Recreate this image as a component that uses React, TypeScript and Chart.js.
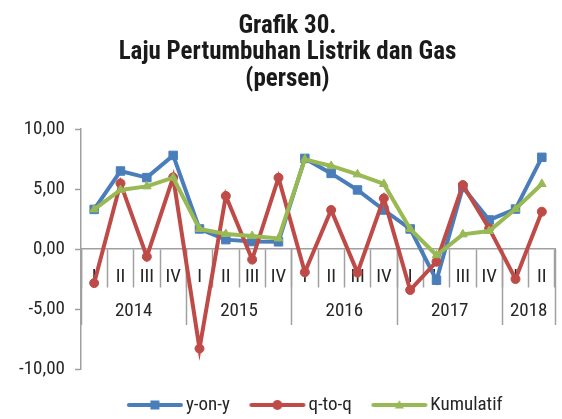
import React, { useEffect, useRef } from 'react';
import { Chart, registerables } from 'chart.js';

Chart.register(...registerables);

const quarters = ['I', 'II', 'III', 'IV', 'I', 'II', 'III', 'IV', 'I', 'II', 'III', 'IV', 'I', 'II', 'III', 'IV', 'I', 'II'];
const years = ['2014', '2015', '2016', '2017', '2018'];
const quartersPerYear = [4, 4, 4, 4, 2];

const yoy = [3.30, 6.50, 5.95, 7.80, 1.67, 0.78, 0.62, 0.60, 7.55, 6.30, 4.92, 3.25, 1.67, -2.60, 5.14, 2.42, 3.33, 7.64];
const qtq = [-2.84, 5.47, -0.64, 5.97, -8.30, 4.42, -0.88, 5.94, -1.94, 3.25, -1.97, 4.22, -3.42, -1.06, 5.33, 1.72, -2.50, 3.11];
const kumulatif = [3.30, 4.92, 5.22, 5.94, 1.67, 1.25, 1.08, 0.88, 7.47, 6.92, 6.22, 5.42, 1.67, -0.52, 1.22, 1.50, 3.33, 5.42];

const seriesNames = ['y-on-y', 'q-to-q', 'Kumulatif'];
const titleLines = ['Grafik 30.', 'Laju Pertumbuhan Listrik dan Gas', '(persen)'];

const BLUE = '#4a7ebb';
const RED = '#be4b48';
const GREEN = '#98b954';
const AXIS = '#a0a0a0';
const TEXT = '#262626';
const FONT = '"Liberation Sans Narrow", "Arial Narrow", "Roboto Condensed", "DejaVu Sans Condensed", sans-serif';

// year group boundaries and centres on the category index scale
const yearBounds: number[] = [-0.5];
quartersPerYear.forEach((n) => yearBounds.push(yearBounds[yearBounds.length - 1] + n));
const yearCenters = years.map((_, i) => yearBounds[i] + quartersPerYear[i] / 2);
const yearTickValues = [...yearBounds, ...yearCenters].sort((a, b) => a - b);

function legendImage(color: string, style: string): HTMLCanvasElement {
  const c = document.createElement('canvas');
  c.width = 58;
  c.height = 14;
  const g = c.getContext('2d')!;
  g.strokeStyle = color;
  g.fillStyle = color;
  g.lineWidth = 4;
  g.lineCap = 'round';
  g.beginPath();
  g.moveTo(3, 7);
  g.lineTo(55, 7);
  g.stroke();
  const cx = 29, cy = 7;
  g.beginPath();
  if (style === 'rect') {
    g.rect(cx - 4.5, cy - 4.5, 9, 9);
  } else if (style === 'circle') {
    g.arc(cx, cy, 5, 0, Math.PI * 2);
  } else {
    g.moveTo(cx, cy - 5);
    g.lineTo(cx + 4.5, cy + 3.5);
    g.lineTo(cx - 4.5, cy + 3.5);
    g.closePath();
  }
  g.fill();
  return c;
}

export default function App() {
  const ref = useRef<HTMLCanvasElement | null>(null);

  useEffect(() => {
    if (!ref.current) return;
    const styles = ['rect', 'circle', 'triangle'];
    const cols = [BLUE, RED, GREEN];
    const images = cols.map((c, i) => legendImage(c, styles[i]));

    const mk = (label: string, data: number[], color: string, pointStyle: string, order: number, radius: number) => ({
      label,
      data,
      borderColor: color,
      backgroundColor: color,
      borderWidth: 4,
      pointStyle,
      pointRadius: radius,
      pointBorderWidth: 1,
      pointBackgroundColor: color,
      pointBorderColor: color,
      tension: 0,
      order,
    });

    const chart = new Chart(ref.current, {
      type: 'line',
      data: {
        labels: quarters,
        datasets: [
          mk(seriesNames[0], yoy, BLUE, 'rect', 3, 6),
          mk(seriesNames[1], qtq, RED, 'circle', 2, 4.5),
          mk(seriesNames[2], kumulatif, GREEN, 'triangle', 1, 5),
        ],
      },
      options: {
        animation: false,
        responsive: true,
        maintainAspectRatio: false,
        layout: { padding: { left: 16, right: 3, top: 0, bottom: -5.5 } },
        scales: {
          x: {
            type: 'category',
            position: { y: 0 },
            offset: true,
            grid: {
              offset: true,
              drawOnChartArea: false,
              drawTicks: true,
              tickLength: 38,
              tickColor: AXIS,
              tickWidth: 1.5,
              color: AXIS,
            },
            border: { display: true, color: AXIS, width: 1.5 },
            ticks: {
              autoSkip: false,
              maxRotation: 0,
              minRotation: 0,
              padding: -21,
              color: TEXT,
              font: { family: FONT, size: 19 },
            },
          },
          x2: {
            type: 'linear',
            position: { y: 0 },
            min: yearBounds[0],
            max: yearBounds[yearBounds.length - 1],
            afterBuildTicks: (scale: any) => {
              scale.ticks = yearTickValues.map((v) => ({ value: v }));
            },
            grid: {
              drawOnChartArea: false,
              drawTicks: true,
              tickLength: 76,
              tickWidth: 1.5,
              tickColor: (ctx: any) =>
                ctx.tick && yearCenters.includes(ctx.tick.value) ? 'rgba(0,0,0,0)' : AXIS,
            },
            border: { display: false },
            ticks: {
              autoSkip: false,
              maxRotation: 0,
              minRotation: 0,
              padding: -25,
              color: TEXT,
              font: { family: FONT, size: 19 },
              callback: (value: any) => {
                const i = yearCenters.indexOf(Number(value));
                return i >= 0 ? years[i] : '';
              },
            },
          },
          y: {
            type: 'linear',
            position: 'left',
            min: -10,
            max: 10,
            afterFit: (scale: any) => {
              scale.width = 65;
            },
            grid: {
              drawOnChartArea: false,
              drawTicks: true,
              tickLength: 6,
              tickColor: AXIS,
              tickWidth: 1.5,
            },
            border: { display: true, color: AXIS, width: 1.5 },
            ticks: {
              stepSize: 5,
              padding: 10,
              color: TEXT,
              font: { family: FONT, size: 19 },
              callback: (value: any) => Number(value).toFixed(2).replace('.', ','),
            },
          },
        },
        plugins: {
          title: {
            display: true,
            text: titleLines,
            color: '#1a1a1a',
            font: { family: FONT, size: 25, weight: 'bold', lineHeight: 1.06 },
            padding: { top: 13, bottom: 36.5 },
          },
          legend: {
            display: true,
            position: 'bottom',
            fullSize: false,
            title: { display: true, text: '', font: { size: 0.5, lineHeight: 1 }, padding: 0 },
            labels: {
              usePointStyle: true,
              pointStyleWidth: 43,
              padding: 26,
              color: TEXT,
              font: { family: FONT, size: 19 },
              generateLabels: () =>
                seriesNames.map((name, i) => ({
                  text: name,
                  fillStyle: cols[i],
                  strokeStyle: cols[i],
                  lineWidth: 0,
                  pointStyle: images[i],
                  hidden: false,
                  datasetIndex: i,
                  fontColor: TEXT,
                })),
            },
          },
          tooltip: { enabled: false },
        },
      },
    } as any);

    return () => chart.destroy();
  }, []);

  return (
    <div style={{ position: 'fixed', left: 0, top: 0, width: 562, height: 419, background: '#fff' }}>
      <canvas ref={ref} />
    </div>
  );
}
